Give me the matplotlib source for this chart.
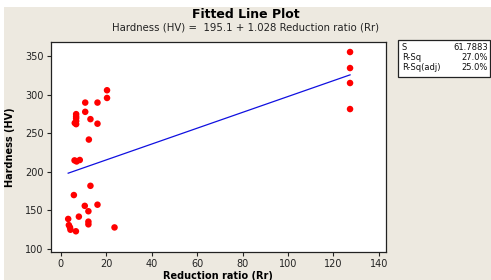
import matplotlib.pyplot as plt
from matplotlib.patches import Rectangle

# Data
reduction_ratio = [3.2, 3.5, 4.0, 4.2, 6.6, 7.9, 5.7, 10.5, 12.1, 12.1, 12.1,
                   13.0, 16.1, 23.6, 6.0, 6.9, 8.3, 6.1, 6.7, 6.7, 6.7, 6.7,
                   6.7, 12.3, 10.7, 10.7, 13.0, 16.1, 16.1, 20.3, 20.3,
                   127.3, 127.3, 127.3, 127.3]
hardness = [139, 131, 128, 125, 123, 142, 170, 156, 149, 135.5, 132,
            182, 157.5, 128, 215, 213.6, 215.5, 263.5, 262, 266, 269.6, 272,
            275, 242, 278, 290, 268.5, 262.6, 290, 306, 296,
            355.6, 334.8, 315.4, 281.6]

intercept = 195.1
slope = 1.028
stats_labels = ["S", "R-Sq", "R-Sq(adj)"]
stats_values = ["61.7883", "27.0%", "25.0%"]

W, H = 491, 280
fig = plt.figure(figsize=(W / 100, H / 100), dpi=100, facecolor='white')
bg = '#EDE9E0'
fig.patches.append(Rectangle((4 / W, 0), 1, 1 - 7 / H, transform=fig.transFigure,
                             facecolor=bg, edgecolor='none', zorder=-10))

ax = fig.add_axes([50.7 / W, 1 - 251.7 / H, 335 / W, 210 / H])
ax.set_zorder(2)
ax.set_facecolor('white')

ax.scatter(reduction_ratio, hardness, s=22, color='#FF0000', edgecolors='none', zorder=3)
x0, x1 = min(reduction_ratio), max(reduction_ratio)
ax.plot([x0, x1], [intercept + slope * x0, intercept + slope * x1],
        color='#1010E0', lw=0.9, zorder=2)

ax.set_xlim(-4.5, 143)
ax.set_ylim(96.5, 369)
ax.set_xticks(range(0, 141, 20))
ax.set_yticks(range(100, 351, 50))
ax.tick_params(labelsize=7, colors='#222222', length=3, width=0.8, pad=2)
for s in ax.spines.values():
    s.set_color('#222222')
    s.set_linewidth(0.9)

ax.set_xlabel('Reduction ratio (Rr)', fontsize=7, fontweight='bold', labelpad=1.5)
ax.set_ylabel('Hardness (HV)', fontsize=7, fontweight='bold', labelpad=7)

fig.text(0.5, 1 - 14 / H, 'Fitted Line Plot', ha='center', va='center',
         fontsize=9, fontweight='bold')
fig.text(0.5, 1 - 28 / H, 'Hardness (HV) =  195.1 + 1.028 Reduction ratio (Rr)',
         ha='center', va='center', fontsize=7.3, color='#222222')

# Summary box
fig.patches.append(Rectangle((398 / W, 1 - 77 / H), 91.5 / W, 37 / H,
                             transform=fig.transFigure, facecolor='white',
                             edgecolor='#222222', lw=0.9, zorder=1))
for i, (lab, val) in enumerate(zip(stats_labels, stats_values)):
    y = 1 - (47 + i * 10.5) / H
    fig.text(402 / W, y, lab, fontsize=6, va='center', ha='left', color='#111111')
    fig.text(488 / W, y, val, fontsize=6, va='center', ha='right', color='#111111')

fig.savefig('out.png', dpi=100, facecolor=fig.get_facecolor())
